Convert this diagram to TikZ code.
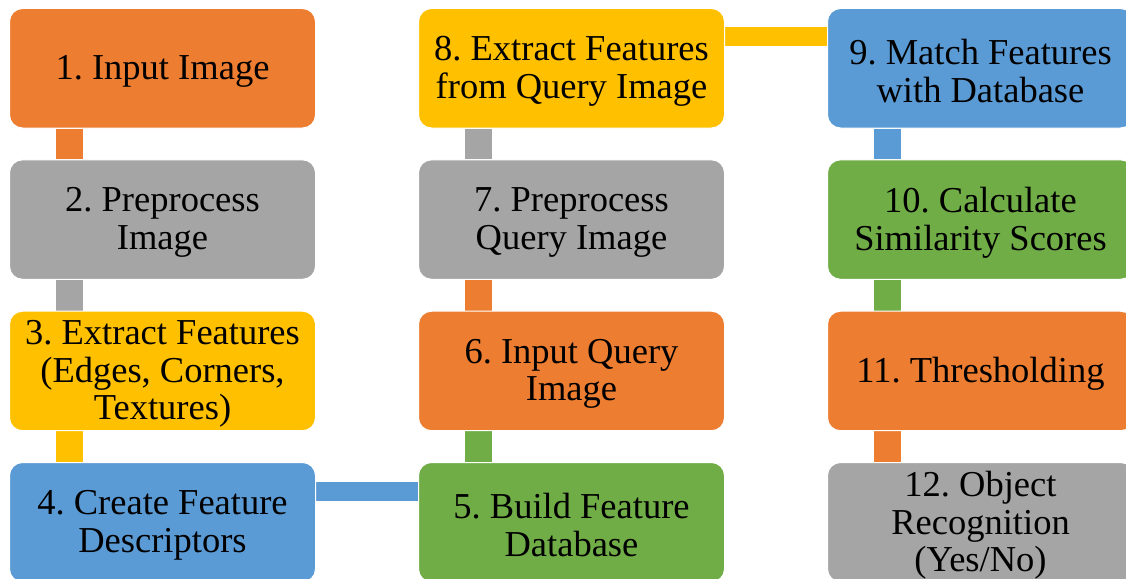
\documentclass[tikz,border=0pt]{standalone}
\usepackage{fontspec}
\setmainfont{Liberation Serif}
\frenchspacing
\usetikzlibrary{calc,backgrounds}

\definecolor{cOrange}{HTML}{ED7D31}
\definecolor{cGray}{HTML}{A5A5A5}
\definecolor{cYellow}{HTML}{FFC000}
\definecolor{cBlue}{HTML}{5B9BD5}
\definecolor{cGreen}{HTML}{70AD47}

\tikzset{
  stepbox/.style={rounded corners=13pt, draw=white, line width=1pt,
    minimum width=306pt, minimum height=119.5pt, inner sep=0pt,
    anchor=north west},
  steptext/.style={align=center, inner sep=0pt, text=black,
    font=\fontsize{36.5}{37.5}\selectfont},
  vlink/.style={line width=27pt, line cap=butt},
  hlink/.style={line width=19pt, line cap=butt}
}

\begin{document}
\begin{tikzpicture}[x=1pt, y=-1pt]
  \useasboundingbox (0,0) rectangle (1126,578);
  \clip (0,0) rectangle (1126,578);

  % first column, top to bottom
  \node[stepbox, fill=cOrange] (n1) at (9,8)     {};
  \node[stepbox, fill=cGray]   (n2) at (9,159.3) {};
  \node[stepbox, fill=cYellow] (n3) at (9,310.7) {};
  \node[stepbox, fill=cBlue]   (n4) at (9,462)   {};

  % second column, bottom to top
  \node[stepbox, fill=cGreen]  (n5) at (418,462)   {};
  \node[stepbox, fill=cOrange] (n6) at (418,310.7) {};
  \node[stepbox, fill=cGray]   (n7) at (418,159.3) {};
  \node[stepbox, fill=cYellow] (n8) at (418,8)     {};

  % third column, top to bottom
  \node[stepbox, fill=cBlue]   (n9)  at (827,8)     {};
  \node[stepbox, fill=cGreen]  (n10) at (827,159.3) {};
  \node[stepbox, fill=cOrange] (n11) at (827,310.7) {};
  \node[stepbox, fill=cGray]   (n12) at (827,462)   {};

  % step labels, set a little below the box centres
  \node[steptext] (t1)  at ($(n1.center)+(0,3)$)  {1. Input Image};
  \node[steptext] (t2)  at ($(n2.center)+(0,3)$)  {2. Preprocess\\Image};
  \node[steptext] (t3)  at ($(n3.center)+(0,3)$)  {3. Extract Features\\(Edges, Corners,\\Textures)};
  \node[steptext] (t4)  at ($(n4.center)+(0,3)$)  {4. Create Feature\\Descriptors};
  \node[steptext] (t5)  at ($(n5.center)+(0,3)$)  {5. Build Feature\\Database};
  \node[steptext] (t6)  at ($(n6.center)+(0,3)$)  {6. Input Query\\Image};
  \node[steptext] (t7)  at ($(n7.center)+(0,3)$)  {7. Preprocess\\Query Image};
  \node[steptext] (t8)  at ($(n8.center)+(0,3)$)  {8. Extract Features\\from Query Image};
  \node[steptext] (t9)  at ($(n9.center)+(0,3)$)  {9. Match Features\\with Database};
  \node[steptext] (t10) at ($(n10.center)+(0,3)$) {10. Calculate\\Similarity Scores};
  \node[steptext] (t11) at ($(n11.center)+(0,3)$) {11. Thresholding};
  \node[steptext] (t12) at ($(n12.center)+(0,3)$) {12. Object\\Recognition\\(Yes/No)};

  % connecting bars, coloured like the step they leave
  \begin{scope}[on background layer]
    \draw[vlink, cOrange] ($(n1.south west)+(60.5,0)$) -- ($(n2.north west)+(60.5,0)$);
    \draw[vlink, cGray]   ($(n2.south west)+(60.5,0)$) -- ($(n3.north west)+(60.5,0)$);
    \draw[vlink, cYellow] ($(n3.south west)+(60.5,0)$) -- ($(n4.north west)+(60.5,0)$);
    \draw[hlink, cBlue]   ($(n4.north east)+(0,29)$)   -- ($(n5.north west)+(0,29)$);
    \draw[vlink, cGreen]  ($(n5.north west)+(60.5,0)$) -- ($(n6.south west)+(60.5,0)$);
    \draw[vlink, cOrange] ($(n6.north west)+(60.5,0)$) -- ($(n7.south west)+(60.5,0)$);
    \draw[vlink, cGray]   ($(n7.north west)+(60.5,0)$) -- ($(n8.south west)+(60.5,0)$);
    \draw[hlink, cYellow] ($(n8.north east)+(0,29)$)   -- ($(n9.north west)+(0,29)$);
    \draw[vlink, cBlue]   ($(n9.south west)+(60.5,0)$) -- ($(n10.north west)+(60.5,0)$);
    \draw[vlink, cGreen]  ($(n10.south west)+(60.5,0)$) -- ($(n11.north west)+(60.5,0)$);
    \draw[vlink, cOrange] ($(n11.south west)+(60.5,0)$) -- ($(n12.north west)+(60.5,0)$);
  \end{scope}
\end{tikzpicture}
\end{document}
